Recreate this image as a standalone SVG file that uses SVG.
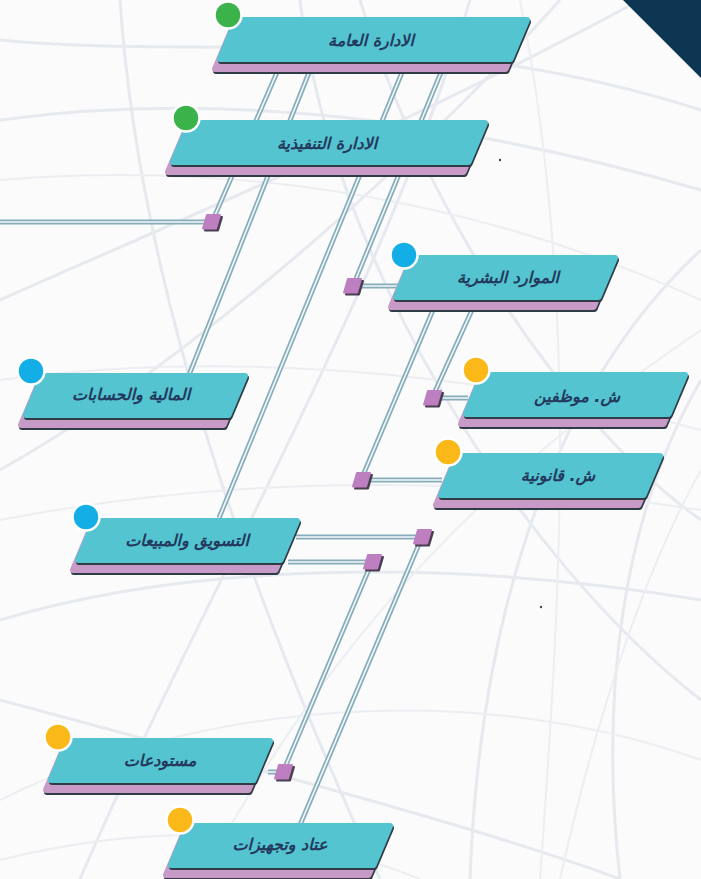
<svg xmlns="http://www.w3.org/2000/svg" xmlns:xlink="http://www.w3.org/1999/xlink" width="701" height="879" viewBox="0 0 701 879">
<style>
.bgl{fill:none;stroke:#e6e9ee;stroke-width:3}
.bgt{fill:none;stroke:#eceef2;stroke-width:2}
.cw{fill:none;stroke:#86adba;stroke-width:5;stroke-linecap:butt}
.ci{fill:none;stroke:#f4f8fa;stroke-width:1.6}
.sh{fill:#2f3b45;stroke:#2f3b45;stroke-width:6;stroke-linejoin:round}
.pk{fill:#c79ac8;stroke:#c79ac8;stroke-width:6;stroke-linejoin:round}
.tl{fill:#54c4d0;stroke:#54c4d0;stroke-width:6;stroke-linejoin:round}
.sq{fill:#bd7fbf;stroke:#bd7fbf;stroke-width:2;stroke-linejoin:round}
.sqs{fill:#4a3f52;stroke:#4a3f52;stroke-width:2;stroke-linejoin:round}
.lbl{font-family:"DejaVu Sans",sans-serif;font-size:16px;font-weight:bold;font-style:italic;fill:#23395d;text-anchor:middle;dominant-baseline:central}
.dot{stroke:#ffffff;stroke-width:2.5}
.g{fill:#3bb34a}.b{fill:#13aee6}.y{fill:#fbb919}
</style>
<defs>
<polygon id="sm" points="3,42 19.5,3 222,3 205.5,42"/>
<polygon id="l1" points="3,42 19.5,3 310,3 293.5,42"/>
<polygon id="l2" points="3,42 19.5,3 315,3 298.5,42"/>
<g id="sqr">
<polygon class="sqs" points="-7,8.5 -3,-5 10,-5 6,8.5"/>
<polygon class="sq" points="-9,6.5 -5,-7 8,-7 4,6.5"/>
</g>
</defs>
<rect width="701" height="879" fill="#fbfbfc"/>
<g id="background">
<path class="bgl" d="M0,40 C200,60 420,20 701,110"/>
<path class="bgl" d="M0,120 C220,90 460,120 701,190"/>
<path class="bgl" d="M0,300 C180,220 420,120 640,0"/>
<path class="bgl" d="M0,470 C160,380 380,200 560,0"/>
<path class="bgl" d="M80,879 C200,600 380,300 470,0"/>
<path class="bgl" d="M360,0 C420,200 560,420 701,520"/>
<path class="bgl" d="M300,0 C330,260 520,560 701,700"/>
<path class="bgl" d="M0,620 C200,560 460,560 701,600"/>
<path class="bgl" d="M0,700 C220,760 460,820 620,879"/>
<path class="bgl" d="M120,0 C140,300 260,620 380,879"/>
<path class="bgl" d="M701,250 C560,380 480,600 470,879"/>
<path class="bgl" d="M701,380 C620,520 600,700 620,879"/>
<path class="bgt" d="M0,180 C240,160 480,200 701,300"/>
<path class="bgt" d="M0,380 C220,350 470,370 701,430"/>
<path class="bgt" d="M0,520 C260,470 500,480 701,510"/>
<path class="bgt" d="M520,0 C580,300 560,600 540,879"/>
<path class="bgt" d="M200,879 C300,700 420,520 701,330"/>
<path class="bgt" d="M0,800 C200,700 480,680 701,760"/>
<path class="bgt" d="M560,879 C600,700 650,560 701,470"/>
<path class="bgt" d="M0,860 C160,820 300,830 420,879"/>
<polygon points="623,0 701,0 701,78" fill="#0c3652"/>
<circle cx="500" cy="160" r="1.2" fill="#3a4a5a"/>
<circle cx="541" cy="607" r="1.2" fill="#3a4a5a"/>
</g>
<g id="connectors">
<g class="cw">
<path d="M278,70 L212,222"/>
<path d="M310,70 L189,375"/>
<path d="M403,70 L219,518"/>
<path d="M442,70 L353,286"/>
<path d="M0,222 L212,222"/>
<path d="M352,286 L398,286"/>
<path d="M433,310 L361,480"/>
<path d="M472,310 L432,398"/>
<path d="M432,398 L468,398"/>
<path d="M361,480 L442,480"/>
<path d="M296,537 L422,537"/>
<path d="M288,562 L372,562"/>
<path d="M422,537 L300,825"/>
<path d="M372,562 L283,772"/>
<path d="M268,772 L283,772"/>
</g>
<g class="ci">
<path d="M278,70 L212,222"/>
<path d="M310,70 L189,375"/>
<path d="M403,70 L219,518"/>
<path d="M442,70 L353,286"/>
<path d="M0,222 L212,222"/>
<path d="M352,286 L398,286"/>
<path d="M433,310 L361,480"/>
<path d="M472,310 L432,398"/>
<path d="M432,398 L468,398"/>
<path d="M361,480 L442,480"/>
<path d="M296,537 L422,537"/>
<path d="M288,562 L372,562"/>
<path d="M422,537 L300,825"/>
<path d="M372,562 L283,772"/>
<path d="M268,772 L283,772"/>
</g>
<use xlink:href="#sqr" x="212" y="222"/>
<use xlink:href="#sqr" x="353" y="286"/>
<use xlink:href="#sqr" x="433" y="398"/>
<use xlink:href="#sqr" x="362" y="480"/>
<use xlink:href="#sqr" x="423" y="537"/>
<use xlink:href="#sqr" x="373" y="562"/>
<use xlink:href="#sqr" x="284" y="772"/>
</g>
<g id="n-general">
<g transform="translate(217,17)">
<use xlink:href="#l1" class="sh" x="-4" y="12"/>
<use xlink:href="#l1" class="pk" x="-5" y="10"/>
<use xlink:href="#l1" class="sh" x="1" y="2"/>
<use xlink:href="#l1" class="tl"/>
</g>
<circle class="dot g" cx="228" cy="15" r="13.5"/>
<text class="lbl" x="371" y="40">الادارة العامة</text>
</g>
<g id="n-exec">
<g transform="translate(170,120)">
<use xlink:href="#l2" class="sh" x="-4" y="12"/>
<use xlink:href="#l2" class="pk" x="-5" y="10"/>
<use xlink:href="#l2" class="sh" x="1" y="2"/>
<use xlink:href="#l2" class="tl"/>
</g>
<circle class="dot g" cx="186" cy="118" r="13.5"/>
<text class="lbl" x="327" y="143">الادارة التنفيذية</text>
</g>
<g id="n-hr">
<g transform="translate(393,255)">
<use xlink:href="#sm" class="sh" x="-4" y="12"/>
<use xlink:href="#sm" class="pk" x="-5" y="10"/>
<use xlink:href="#sm" class="sh" x="1" y="2"/>
<use xlink:href="#sm" class="tl"/>
</g>
<circle class="dot b" cx="404" cy="255" r="13.5"/>
<text class="lbl" x="508" y="277">الموارد البشرية</text>
</g>
<g id="n-employees">
<g transform="translate(463,372)">
<use xlink:href="#sm" class="sh" x="-4" y="12"/>
<use xlink:href="#sm" class="pk" x="-5" y="10"/>
<use xlink:href="#sm" class="sh" x="1" y="2"/>
<use xlink:href="#sm" class="tl"/>
</g>
<circle class="dot y" cx="476" cy="370" r="13.5"/>
<text class="lbl" x="577" y="396">ش. موظفين</text>
</g>
<g id="n-legal">
<g transform="translate(438,453)">
<use xlink:href="#sm" class="sh" x="-4" y="12"/>
<use xlink:href="#sm" class="pk" x="-5" y="10"/>
<use xlink:href="#sm" class="sh" x="1" y="2"/>
<use xlink:href="#sm" class="tl"/>
</g>
<circle class="dot y" cx="448" cy="452" r="13.5"/>
<text class="lbl" x="558" y="475">ش. قانونية</text>
</g>
<g id="n-finance">
<g transform="translate(23,373)">
<use xlink:href="#sm" class="sh" x="-4" y="12"/>
<use xlink:href="#sm" class="pk" x="-5" y="10"/>
<use xlink:href="#sm" class="sh" x="1" y="2"/>
<use xlink:href="#sm" class="tl"/>
</g>
<circle class="dot b" cx="31" cy="371" r="13.5"/>
<text class="lbl" x="131" y="394">المالية والحسابات</text>
</g>
<g id="n-marketing">
<g transform="translate(75,518)">
<use xlink:href="#sm" class="sh" x="-4" y="12"/>
<use xlink:href="#sm" class="pk" x="-5" y="10"/>
<use xlink:href="#sm" class="sh" x="1" y="2"/>
<use xlink:href="#sm" class="tl"/>
</g>
<circle class="dot b" cx="86" cy="517" r="13.5"/>
<text class="lbl" x="187" y="540">التسويق والمبيعات</text>
</g>
<g id="n-warehouses">
<g transform="translate(48,738)">
<use xlink:href="#sm" class="sh" x="-4" y="12"/>
<use xlink:href="#sm" class="pk" x="-5" y="10"/>
<use xlink:href="#sm" class="sh" x="1" y="2"/>
<use xlink:href="#sm" class="tl"/>
</g>
<circle class="dot y" cx="58" cy="737" r="13.5"/>
<text class="lbl" x="160" y="760">مستودعات</text>
</g>
<g id="n-equipment">
<g transform="translate(168,823)">
<use xlink:href="#sm" class="sh" x="-4" y="12"/>
<use xlink:href="#sm" class="pk" x="-5" y="10"/>
<use xlink:href="#sm" class="sh" x="1" y="2"/>
<use xlink:href="#sm" class="tl"/>
</g>
<circle class="dot y" cx="180" cy="820" r="13.5"/>
<text class="lbl" x="280" y="844">عتاد وتجهيزات</text>
</g>
</svg>
